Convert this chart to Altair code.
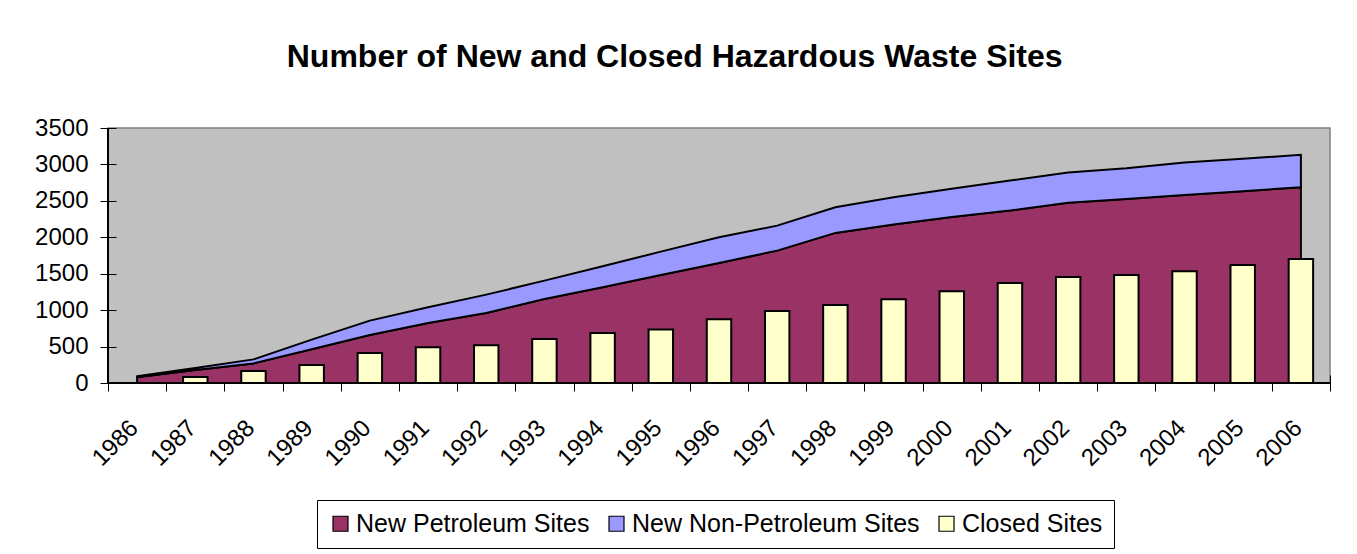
import altair as alt
import pandas as pd

years = [str(y) for y in range(1986, 2007)]
petroleum = [80, 179, 269, 462, 659, 824, 961, 1154, 1313, 1483, 1648, 1817,
             2060, 2174, 2280, 2367, 2473, 2527, 2582, 2632, 2687]
non_petroleum = [12, 27, 55, 133, 197, 215, 252, 251, 289, 320, 352, 343,
                 352, 376, 385, 412, 416, 421, 444, 445, 445]
closed = [None, 82, 165, 247, 412, 489, 517, 604, 687, 736, 874, 989,
          1071, 1148, 1258, 1374, 1456, 1484, 1533, 1621, 1703]
y_ticks = [0, 500, 1000, 1500, 2000, 2500, 3000, 3500]

series_names = ["New Petroleum Sites", "New Non-Petroleum Sites", "Closed Sites"]
series_colors = ["#993366", "#9999FF", "#FFFFCC"]

area_df = pd.DataFrame(
    [{"year": y, "series": series_names[0], "value": v, "order": 0} for y, v in zip(years, petroleum)]
    + [{"year": y, "series": series_names[1], "value": v, "order": 1} for y, v in zip(years, non_petroleum)]
)
bar_df = pd.DataFrame({"year": years, "series": series_names[2], "value": closed})

FONT = "Liberation Sans"

x_scale = alt.Scale(domain=years, paddingInner=0, paddingOuter=0)
y_scale = alt.Scale(domain=[0, 3500])
color = alt.Color(
    "series:N",
    scale=alt.Scale(domain=series_names, range=series_colors),
    legend=alt.Legend(
        title=None, orient="none", legendX=209, legendY=372, direction="horizontal",
        symbolType="square", symbolSize=225, symbolStrokeColor="black", symbolStrokeWidth=1.2,
        labelFontSize=25, labelFont=FONT, labelColor="black", labelLimit=0,
        strokeColor="black", padding=11, columnPadding=14, labelOffset=3,
    ),
)

x_axis = alt.Axis(
    title=None, labelAngle=-45, labelFontSize=24, labelFont=FONT, labelColor="black",
    labelAlign="right", labelBaseline="middle",
    tickBand="extent", tickSize=16, offset=-8, domain=False, tickColor="black",
    labelPadding=33, labelOffset=-3,
)
y_axis = alt.Axis(
    title=None, values=y_ticks, format="d", labelFontSize=24,
    labelFont=FONT, labelColor="black", tickSize=16, offset=-8, domain=False,
    tickColor="black", labelPadding=12, grid=False,
)

areas = alt.Chart(area_df).mark_area(stroke="black", strokeWidth=2, opacity=1).encode(
    x=alt.X("year:O", scale=x_scale, axis=x_axis, bandPosition=0.5),
    y=alt.Y("value:Q", stack="zero", scale=y_scale, axis=y_axis),
    color=color,
    order=alt.Order("order:Q", sort="ascending"),
)

bars = alt.Chart(bar_df).mark_bar(
    stroke="black", strokeWidth=2, width=alt.RelativeBandSize(0.42)
).encode(
    x=alt.X("year:O", scale=x_scale, axis=x_axis),
    y=alt.Y("value:Q", scale=y_scale, axis=y_axis),
    color=color,
)

base_line = alt.Chart(bar_df).mark_rule(color="black", strokeWidth=1.5).encode(
    y=alt.YDatum(0, type="quantitative", scale=y_scale, axis=y_axis)
)
left_line = alt.Chart(bar_df).mark_rule(color="black", strokeWidth=1.5).encode(
    x=alt.XDatum("1986", type="ordinal", bandPosition=0, scale=x_scale, axis=x_axis)
)

chart = alt.layer(areas, bars, base_line, left_line).properties(
    width=1222, height=255,
    title=alt.TitleParams(
        "Number of New and Closed Hazardous Waste Sites", fontSize=32, font=FONT,
        fontWeight="bold", color="black", anchor="middle", frame="bounds", offset=42,
        dx=-8,
    ),
    padding={"left": 26, "top": 33, "right": 5, "bottom": 5},
    background="white",
).configure_view(
    fill="#C0C0C0", stroke="#808080", strokeWidth=1.5
)

chart.save("out.html", embed_options={"renderer": "svg", "actions": False})
